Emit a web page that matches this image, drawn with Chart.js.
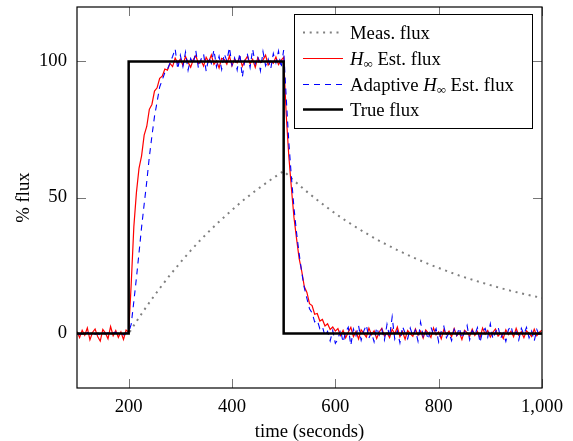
<!DOCTYPE html>
<html lang="en">
<head>
<meta charset="UTF-8">
<title>Flux estimation</title>
<style>
  html, body { margin: 0; padding: 0; background: #fff; }
  canvas { display: block; }
</style>
</head>
<body>
<canvas id="fluxChart" width="573" height="441"></canvas>

<script src="https://cdn.jsdelivr.net/npm/chart.js"></script>
<script>
// sample times of the estimator outputs (seconds)
const timeSec = [
  100, 105, 110, 115, 120, 125, 130, 135, 140, 145, 150, 155, 160, 165, 170, 175, 180, 185, 190, 195,
  200, 205, 210, 215, 220, 225, 230, 235, 240, 245, 250, 255, 260, 265, 270, 275, 280, 285, 290, 295,
  300, 305, 310, 315, 320, 325, 330, 335, 340, 345, 350, 355, 360, 365, 370, 375, 380, 385, 390, 395,
  400, 405, 410, 415, 420, 425, 430, 435, 440, 445, 450, 455, 460, 465, 470, 475, 480, 485, 490, 495,
  500, 505, 510, 515, 520, 525, 530, 535, 540, 545, 550, 555, 560, 565, 570, 575, 580, 585, 590, 595,
  600, 605, 610, 615, 620, 625, 630, 635, 640, 645, 650, 655, 660, 665, 670, 675, 680, 685, 690, 695,
  700, 705, 710, 715, 720, 725, 730, 735, 740, 745, 750, 755, 760, 765, 770, 775, 780, 785, 790, 795,
  800, 805, 810, 815, 820, 825, 830, 835, 840, 845, 850, 855, 860, 865, 870, 875, 880, 885, 890, 895,
  900, 905, 910, 915, 920, 925, 930, 935, 940, 945, 950, 955, 960, 965, 970, 975, 980, 985, 990, 995,
  1000
];

// H-infinity estimate (% flux)
const hinfEst = [
  0.8, -1.5, 1.2, -0.6, 2.1, -2.3, 0.4, 1.7, -1.1, -2.8, 1.5, 0.2, -1.9, 2.6, -0.8, 1.1, -1.4, 0.6, -2.2, 1.3,
  0.5, 18.5, 39.2, 51.8, 60.7, 65.3, 72.9, 76.1, 82.4, 84.2, 89.1, 90.3, 93.8, 94.6, 97.2, 96.8, 99.3, 98.1, 101.2, 99.4,
  100.9, 98.6, 101.8, 99.7, 97.9, 100.6, 102.1, 99.2, 100.4, 98.3, 101.5, 99.8, 102.4, 98.9, 100.2, 97.6, 101.1, 100.7, 99.0, 102.0,
  98.4, 100.9, 99.5, 101.7, 98.2, 100.3, 101.9, 99.1, 100.8, 97.8, 101.4, 99.6, 100.5, 102.3, 98.7, 100.1, 99.3, 101.6, 98.8, 100.4,
  101.5, 80.2, 65.1, 53.4, 42.6, 34.8, 27.5, 22.9, 17.2, 15.1, 11.0, 10.3, 7.1, 7.4, 4.6, 5.2, 2.8, 3.6, 1.5, 2.4,
  0.9, 1.8, -0.7, 1.2, -1.6, 0.5, 2.3, -1.1, 0.8, -2.0, 1.4, 0.1, -1.3, 2.0, -0.4, 1.0, -1.8, 0.6, 1.9, -0.9,
  0.3, -1.5, 1.6, -0.2, 2.4, -1.2, 0.7, -2.1, 1.1, 0.0, -1.0, 1.7, -0.6, 0.9, -1.7, 1.3, 0.2, -1.4, 2.1, -0.5,
  0.6, -1.9, 1.5, -0.3, 0.9, -1.1, 1.8, -0.8, 0.4, -2.2, 1.2, 0.3, -1.0, 1.6, -0.7, 0.8, -1.6, 2.0, -0.2, 1.1,
  -1.3, 0.5, 1.7, -0.9, 0.2, -1.8, 1.4, -0.4, 0.9, -1.2, 1.9, -0.6, 0.7, -1.5, 1.0, 0.1, -1.1, 1.6, -0.8, 0.5,
  1.2
];

// adaptive H-infinity estimate (% flux)
const adaptiveEst = [
  0.3, -0.4, 0.2, -0.5, 0.4, -0.2, 0.5, -0.3, 0.1, -0.6, 0.4, -0.1, 0.3, -0.4, 0.2, 0.5, -0.3, 0.1, -0.5, 0.2,
  0.4, 3.5, 11.8, 20.4, 29.6, 39.1, 47.5, 55.8, 64.9, 72.6, 79.8, 85.1, 90.6, 93.2, 95.9, 97.1, 99.4, 101.8, 104.6, 97.2,
  102.3, 98.1, 103.4, 96.8, 101.1, 99.0, 103.9, 97.5, 100.8, 102.7, 96.4, 101.5, 99.3, 104.2, 98.0, 101.9, 97.1, 102.8, 100.2, 105.1,
  98.6, 101.3, 96.9, 103.0, 94.2, 100.7, 102.5, 97.8, 104.5, 99.1, 101.8, 96.6, 103.6, 98.4, 100.9, 97.3, 102.9, 99.5, 103.8, 97.6,
  104.2, 86.5, 70.2, 57.4, 46.1, 37.0, 29.3, 22.5, 16.8, 12.9, 9.1, 7.6, 4.3, 4.9, 1.8, 2.6, -0.9, 0.8, -2.7, 1.1,
  -3.6, -2.1, 1.4, -3.2, 0.6, 2.3, -4.3, 1.7, -0.8, 2.9, -2.5, 0.9, 3.1, -1.6, 0.4, -3.0, 2.2, -0.6, 1.5, -2.4,
  3.4, -1.2, 6.1, -2.0, 1.0, -3.4, 2.6, 0.2, -1.9, 2.0, -0.9, 1.3, -2.8, 4.2, -1.1, 0.7, -2.2, 2.4, -0.4, 1.8,
  -3.1, 0.9, 2.7, -1.5, 0.3, -2.6, 1.6, -0.7, 2.1, -1.8, 0.5, 3.0, -2.3, 1.1, -0.5, 2.2, -3.3, 0.8, 1.9, -1.3,
  3.6, -2.0, 0.6, 2.5, -1.7, 0.2, -2.9, 1.4, 2.8, -1.0, 0.7, -2.4, 1.9, -0.3, 2.3, -1.6, 0.9, -2.7, 1.5, -0.8,
  0.4
];

// measured flux (smooth, coarser sampling)
const measTime = [100, 200, 220, 240, 260, 280, 300, 320, 340, 360, 380, 400, 420, 440, 460, 480, 500,
  520, 540, 560, 580, 600, 620, 640, 660, 680, 700, 720, 740, 760, 780, 800, 820, 840, 860, 880, 900, 920, 940, 960, 980, 1000];
const measFlux = [0, 0, 5.9, 11.4, 16.6, 21.5, 26.1, 30.5, 34.6, 38.4, 42.0, 45.4, 48.7, 51.7, 54.5, 57.2, 59.7,
  56.2, 52.9, 49.8, 46.9, 44.1, 41.5, 39.1, 36.8, 34.6, 32.6, 30.7, 28.9, 27.2, 25.6, 24.1, 22.7, 21.3, 20.1, 18.9, 17.8, 16.7, 15.7, 14.8, 13.9, 13.1];

// true flux (step up at 200 s, step down at 500 s)
const trueTime = [100, 200, 200, 500, 500, 1000];
const trueFlux = [0, 0, 100, 100, 0, 0];

const xTickValues = [200, 400, 600, 800, 1000];
const yTickValues = [0, 50, 100];

const serif = "'Liberation Serif', 'DejaVu Serif', serif";
const fontSize = 18.7;

function pts(xs, ys) {
    return xs.map((x, i) => ({ x: x, y: ys[i] }));
}

// pgfplots-style inward tick marks + frame
const frameTicks = {
    id: 'frameTicks',
    beforeDatasetsDraw(chart) {
        const { ctx, chartArea: a, scales: { x, y } } = chart;
        ctx.save();
        ctx.strokeStyle = '#777';
        ctx.lineWidth = 1;
        ctx.beginPath();
        xTickValues.forEach(v => {
            const px = Math.round(x.getPixelForValue(v)) + 0.5;
            ctx.moveTo(px, a.bottom); ctx.lineTo(px, a.bottom - 9);
            ctx.moveTo(px, a.top); ctx.lineTo(px, a.top + 9);
        });
        yTickValues.forEach(v => {
            const py = Math.round(y.getPixelForValue(v)) + 0.5;
            ctx.moveTo(a.left, py); ctx.lineTo(a.left + 9, py);
            ctx.moveTo(a.right, py); ctx.lineTo(a.right - 9, py);
        });
        ctx.stroke();
        ctx.restore();
    },
    afterDatasetsDraw(chart) {
        const { ctx, chartArea: a } = chart;
        ctx.save();
        ctx.strokeStyle = '#000';
        ctx.lineWidth = 1.2;
        ctx.strokeRect(a.left, a.top, a.right - a.left, a.bottom - a.top);
        ctx.restore();
    }
};

// legend box drawn inside the plot, with italic H and subscript infinity
const boxLegend = {
    id: 'boxLegend',
    afterDraw(chart) {
        const { ctx, chartArea: a } = chart;
        const x0 = a.right - 248, y0 = a.top + 7, w = 238, h = 114;
        ctx.save();
        ctx.fillStyle = '#fff';
        ctx.fillRect(x0, y0, w, h);
        ctx.strokeStyle = '#000';
        ctx.lineWidth = 1;
        ctx.strokeRect(x0 + 0.5, y0 + 0.5, w, h);

        const rows = [
            { color: '#808080', width: 2, dash: [2, 4.7], parts: [['Meas. flux', 'n']] },
            { color: '#ff0000', width: 1, dash: [], parts: [['H', 'i'], ['\u221E', 's'], [' Est. flux', 'n']] },
            { color: '#0000ff', width: 1, dash: [6, 5], parts: [['Adaptive ', 'n'], ['H', 'i'], ['\u221E', 's'], [' Est. flux', 'n']] },
            { color: '#000', width: 2.5, dash: [], parts: [['True flux', 'n']] }
        ];
        rows.forEach((r, i) => {
            const yc = Math.round(y0 + 18.3 + i * 25.7) + 0.5;
            ctx.strokeStyle = r.color;
            ctx.lineWidth = r.width;
            ctx.setLineDash(r.dash);
            ctx.beginPath();
            ctx.moveTo(x0 + 9, yc);
            ctx.lineTo(x0 + 49, yc);
            ctx.stroke();
            ctx.setLineDash([]);

            let tx = x0 + 56;
            ctx.fillStyle = '#000';
            ctx.textBaseline = 'alphabetic';
            const base = yc + 6;
            r.parts.forEach(([t, kind]) => {
                if (kind === 'i') ctx.font = 'italic ' + fontSize + 'px ' + serif;
                else if (kind === 's') ctx.font = '13px ' + serif;
                else ctx.font = fontSize + 'px ' + serif;
                ctx.fillText(t, tx, kind === 's' ? base + 3 : base);
                tx += ctx.measureText(t).width;
            });
        });
        ctx.restore();
    }
};

const ctx = document.getElementById('fluxChart').getContext('2d');
new Chart(ctx, {
    type: 'line',
    data: {
        datasets: [
            {
                label: 'Meas. flux',
                data: pts(measTime, measFlux),
                borderColor: '#808080',
                borderWidth: 2,
                borderDash: [2, 4.7],
                order: 4
            },
            {
                label: 'H\u221E Est. flux',
                data: pts(timeSec, hinfEst),
                borderColor: '#ff0000',
                borderWidth: 1.2,
                order: 3
            },
            {
                label: 'Adaptive H\u221E Est. flux',
                data: pts(timeSec, adaptiveEst),
                borderColor: '#0000ff',
                borderWidth: 1.1,
                borderDash: [6, 5],
                order: 2
            },
            {
                label: 'True flux',
                data: pts(trueTime, trueFlux),
                borderColor: '#000',
                borderWidth: 2.5,
                borderJoinStyle: 'miter',
                order: 1
            }
        ]
    },
    options: {
        responsive: false,
        animation: false,
        devicePixelRatio: 1,
        layout: { padding: { top: 7, right: 31, left: 0, bottom: 0 } },
        elements: {
            point: { radius: 0, hoverRadius: 0 },
            line: { tension: 0, fill: false }
        },
        plugins: {
            legend: { display: false },
            tooltip: { enabled: false }
        },
        scales: {
            x: {
                type: 'linear',
                min: 100,
                max: 1000,
                afterBuildTicks: s => { s.ticks = xTickValues.map(v => ({ value: v })); },
                afterFit: s => { s.height = 53; s.paddingLeft = 0; s.paddingRight = 0; },
                grid: { display: false, drawTicks: false },
                border: { display: false },
                ticks: { color: '#000', font: { family: serif, size: fontSize }, padding: 8, maxRotation: 0, autoSkip: false },
                title: {
                    display: true,
                    text: 'time (seconds)',
                    color: '#000',
                    font: { family: serif, size: fontSize, lineHeight: 1 },
                    padding: { top: 0, bottom: 0 }
                }
            },
            y: {
                min: -20,
                max: 120,
                afterBuildTicks: s => { s.ticks = yTickValues.map(v => ({ value: v })); },
                afterFit: s => { s.width = 77; s.paddingTop = 0; s.paddingBottom = 0; },
                grid: { display: false, drawTicks: false },
                border: { display: false },
                ticks: { color: '#000', font: { family: serif, size: fontSize }, padding: 10 },
                title: {
                    display: true,
                    text: '% flux',
                    color: '#000',
                    font: { family: serif, size: fontSize, lineHeight: 1 },
                    padding: { top: 15, bottom: 0 }
                }
            }
        }
    },
    plugins: [frameTicks, boxLegend]
});
</script>
</body>
</html>
